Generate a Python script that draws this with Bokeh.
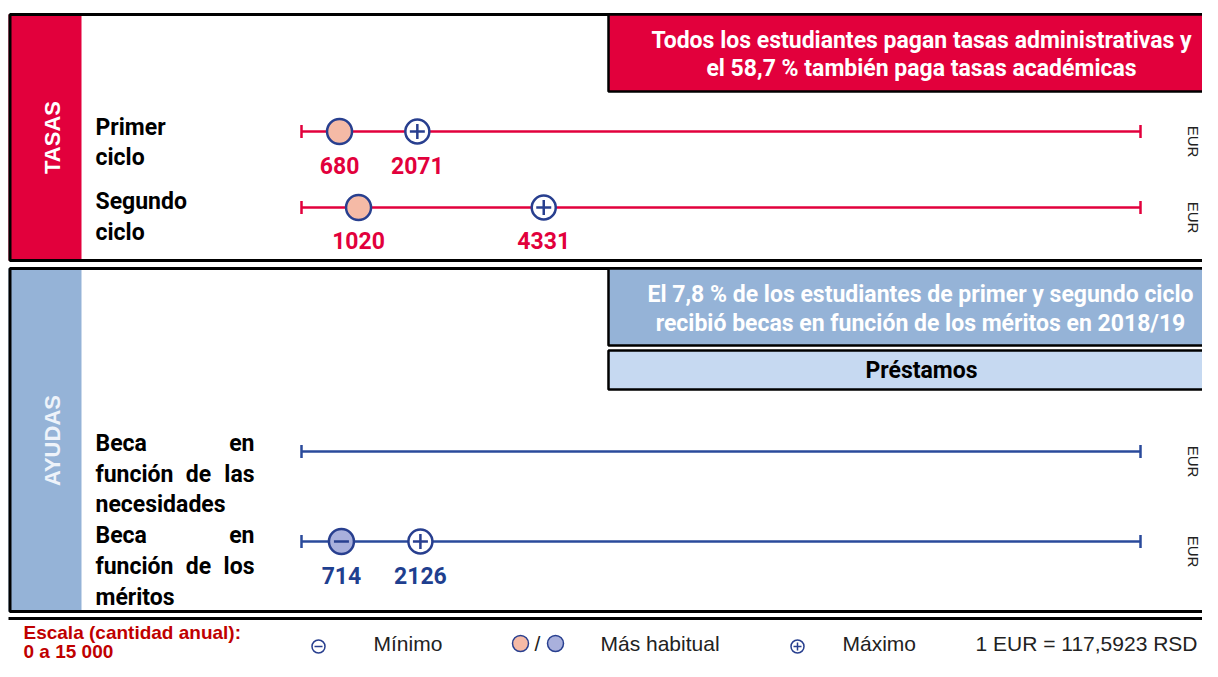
from bokeh.plotting import figure
from bokeh.models import Range1d
from bokeh.core.properties import value
from bokeh.embed import file_html
from bokeh.resources import INLINE

# ---------------- data ----------------
scale_min = 0
scale_max = 15000
tasas_rows = ["Primer ciclo", "Segundo ciclo"]
tasas_habitual = [680, 1020]
tasas_maximo = [2071, 4331]
ayudas_rows = ["Beca en función de las necesidades", "Beca en función de los méritos"]
ayudas_minimo = [714]          # méritos (minimum = most common)
ayudas_maximo = [2126]         # méritos
tasas_header = ["Todos los estudiantes pagan tasas administrativas y",
                "el 58,7 % también paga tasas académicas"]
ayudas_header = ["El 7,8 % de los estudiantes de primer y segundo ciclo",
                 "recibió becas en función de los méritos en 2018/19"]
loans_label = "Préstamos"
currency_note = "1 EUR = 117,5923 RSD"

# ---------------- style ----------------
RED = "#e2003c"
DARKRED = "#c00000"
BAND_BLUE = "#95b3d7"
LIGHT_BLUE = "#c6d9f1"
NAVY = "#283f8f"
LINE_BLUE = "#2a4a9b"
VAL_BLUE = "#1f3f8f"
SALMON = "#f5baa6"
LAVENDER = "#a9b0dc"
COND = value("Roboto")
SANS = value("Liberation Sans")

W, H = 1202, 661
X0, X1 = 0, W
Y0, Y1 = 0, H
# pixel positions of the scale ends
SX0, SX1 = 301, 1140
k = (scale_max - scale_min) / (SX1 - SX0)

p = figure(width=W, height=H, output_backend="svg", toolbar_location=None,
           x_range=Range1d(X0, X1), y_range=Range1d(Y1, Y0),
           min_border=0, outline_line_color=None)
p.extra_x_ranges = {"eur": Range1d(scale_min + (X0 - SX0) * k, scale_min + (X1 - SX0) * k)}
p.axis.visible = False
p.grid.visible = False
p.background_fill_color = "white"
p.border_fill_color = "white"

FAR = 1260

def txt(x, y, t, size, color="black", font=COND, style="bold", align="left", angle=0, base="middle", **kw):
    p.text(x=[x], y=[y], text=[t], text_font=font, text_font_size=value(f"{size}px"),
           text_font_style=style, text_color=color, text_align=align,
           text_baseline=base, angle=angle, **kw)

# ---------------- panels ----------------
# TASAS panel
p.quad(left=[8], right=[81], top=[14], bottom=[260], fill_color=RED, line_color=None)
p.quad(left=[9.5], right=[FAR], top=[14], bottom=[260], fill_color=None, line_color="black", line_width=3)
p.quad(left=[608], right=[FAR], top=[14], bottom=[91], fill_color=RED, line_color="black", line_width=2.5)
# AYUDAS panel
p.quad(left=[8], right=[81], top=[268], bottom=[611], fill_color=BAND_BLUE, line_color=None)
p.quad(left=[9.5], right=[FAR], top=[268], bottom=[611], fill_color=None, line_color="black", line_width=3)
p.quad(left=[608], right=[FAR], top=[268], bottom=[345], fill_color=BAND_BLUE, line_color="black", line_width=2.5)
p.quad(left=[608], right=[FAR], top=[350], bottom=[389], fill_color=LIGHT_BLUE, line_color="black", line_width=2.5)
# separator line
p.segment(x0=[8], x1=[FAR], y0=[618], y1=[618], line_color="black", line_width=3)

# band labels
txt(52, 137, "TASAS", 22, color="white", font=SANS, align="center", angle=1.5708)
txt(52, 440, "AYUDAS", 22, color="#eef3fa", font=SANS, align="center", angle=1.5708)

# headers
for i, line in enumerate(tasas_header):
    txt(921, 40 + 28 * i, line, 23, color="white", align="center")
for i, line in enumerate(ayudas_header):
    txt(920, 294 + 29 * i, line, 23, color="white", align="center")
txt(921, 370, loans_label, 23, color="black", align="center")

# ---------------- row labels ----------------
txt(95, 127, "Primer", 23)
txt(95, 157, "ciclo", 23)
txt(95, 201, "Segundo", 23)
txt(95, 232, "ciclo", 23)
for y0, last in [(443, "las"), (535, "los")]:
    txt(95, y0, "Beca", 23)
    txt(254, y0, "en", 23, align="right")
    txt(95, y0 + 31, "función", 23)
    txt(198, y0 + 31, "de", 23, align="center")
    txt(254, y0 + 31, last, 23, align="right")
txt(95, 504, "necesidades", 23)
txt(95, 597, "méritos", 23)

# ---------------- scale rows ----------------
row_y = [131, 207, 451, 541]
row_col = [RED, RED, LINE_BLUE, LINE_BLUE]
for y, c in zip(row_y, row_col):
    p.segment(x0=[scale_min], x1=[scale_max], y0=[y], y1=[y], line_color=c, line_width=2.5, x_range_name="eur")
    p.segment(x0=[scale_min, scale_max], x1=[scale_min, scale_max], y0=[y - 6.5] * 2, y1=[y + 6.5] * 2,
              line_color=c, line_width=2.5, x_range_name="eur")
    txt(1193, y + 10, "EUR", 15, color="#222222", font=SANS, style="normal", align="center", angle=-1.5708)

# TASAS markers
ty = row_y[:2]
p.scatter(x=tasas_habitual, y=ty, marker="circle", size=25, fill_color=SALMON, line_color=NAVY,
          line_width=2.5, x_range_name="eur")
p.scatter(x=tasas_maximo, y=ty, marker="circle", size=24, fill_color="white", line_color=NAVY,
          line_width=2.5, x_range_name="eur")
p.scatter(x=tasas_maximo, y=ty, marker="cross", size=15, line_color=NAVY, line_width=2.5, x_range_name="eur")
p.text(x=tasas_habitual + tasas_maximo, y=[165, 240, 165, 240],
       text=[str(v) for v in tasas_habitual + tasas_maximo],
       text_font=COND, text_font_size=value("23px"), text_font_style="bold", text_color=RED,
       text_align="center", text_baseline="middle", x_range_name="eur")

# AYUDAS markers (méritos row)
my = [row_y[3]]
p.scatter(x=ayudas_minimo, y=my, marker="circle", size=25, fill_color=LAVENDER, line_color=NAVY,
          line_width=2.5, x_range_name="eur")
p.scatter(x=ayudas_minimo, y=my, marker="dash", size=15, line_color=NAVY, line_width=2.5, x_range_name="eur")
p.scatter(x=ayudas_maximo, y=my, marker="circle", size=24, fill_color="white", line_color=NAVY,
          line_width=2.5, x_range_name="eur")
p.scatter(x=ayudas_maximo, y=my, marker="cross", size=15, line_color=NAVY, line_width=2.5, x_range_name="eur")
p.text(x=ayudas_minimo + ayudas_maximo, y=[575, 575],
       text=[str(v) for v in ayudas_minimo + ayudas_maximo],
       text_font=COND, text_font_size=value("23px"), text_font_style="bold", text_color=VAL_BLUE,
       text_align="center", text_baseline="middle", x_range_name="eur")

# ---------------- legend ----------------
txt(23, 632, "Escala (cantidad anual):", 19, color=DARKRED, font=SANS)
txt(23, 651, "0 a 15 000", 19, color=DARKRED, font=SANS)
LY = 643
p.scatter(x=[318], y=[LY + 3], marker="circle", size=13, fill_color="white", line_color=NAVY, line_width=1.5)
p.scatter(x=[318], y=[LY + 3], marker="dash", size=8, line_color=NAVY, line_width=1.5)
txt(373, LY, "Mínimo", 21, color="#222222", font=SANS, style="normal")
p.scatter(x=[520], y=[LY], marker="circle", size=16, fill_color=SALMON, line_color=NAVY, line_width=1.5)
txt(537, LY, "/", 21, color="#222222", font=SANS, style="normal", align="center")
p.scatter(x=[555], y=[LY], marker="circle", size=16, fill_color=LAVENDER, line_color=NAVY, line_width=1.5)
txt(600, LY, "Más habitual", 21, color="#222222", font=SANS, style="normal")
p.scatter(x=[797], y=[LY + 3], marker="circle", size=13, fill_color="white", line_color=NAVY, line_width=1.5)
p.scatter(x=[797], y=[LY + 3], marker="cross", size=8, line_color=NAVY, line_width=1.5)
txt(842, LY, "Máximo", 21, color="#222222", font=SANS, style="normal")
txt(975, LY, currency_note, 21, color="#222222", font=SANS, style="normal")

open("out.html", "w").write(file_html(p, INLINE))
